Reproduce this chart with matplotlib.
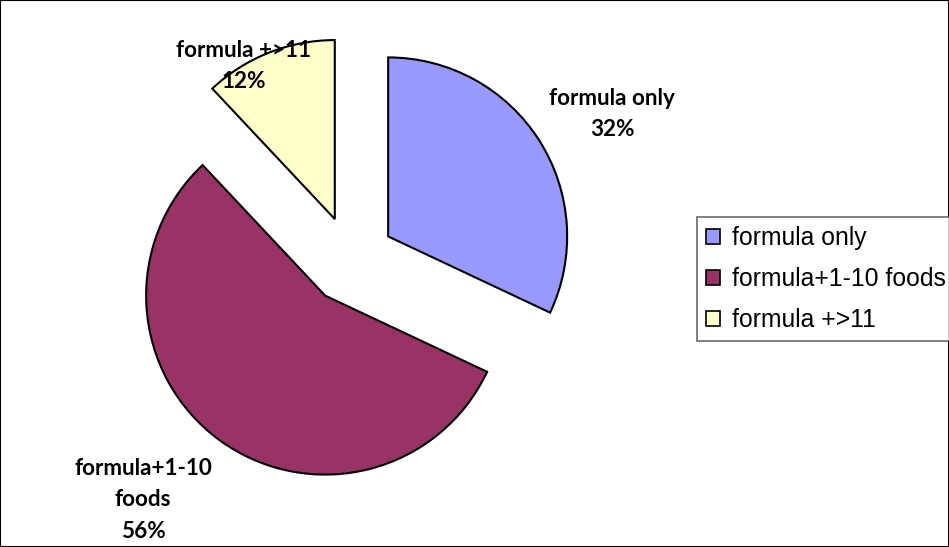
import matplotlib.pyplot as plt
from matplotlib.patches import Patch, Rectangle

labels = ['formula only', 'formula+1-10 foods', 'formula +>11']
values = [32, 56, 12]
colors = ['#9999FF', '#993366', '#FFFFCC']
pie_labels = ['formula only\n32%', 'formula+1-10\nfoods\n56%', 'formula +>11\n12%']
label_pos = [(612, 433), (143, 47), (244, 481)]

fig = plt.figure(figsize=(9.49, 5.47), dpi=100)
ax = fig.add_axes([0, 0, 1, 1])

ax.pie(values, colors=colors, startangle=90, counterclock=False,
       center=(351, 287), radius=179, explode=[44, 44, 44],
       wedgeprops=dict(edgecolor='black', linewidth=1.5), frame=True)
ax.set_xlim(0, 949)
ax.set_ylim(0, 547)
ax.axis('off')

for txt, (x, y) in zip(pie_labels, label_pos):
    ax.text(x, y, txt, ha='center', va='center', fontsize=16.2, fontweight='bold',
            family='Lato', linespacing=1.6)

handles = [Patch(facecolor=c, edgecolor='black', linewidth=1.2) for c in colors]
leg = fig.legend(handles, labels, loc='upper left', bbox_to_anchor=(697 / 949, 1 - 217 / 547),
                 prop={'family': 'Liberation Sans', 'size': 17.8}, frameon=True, fancybox=False,
                 handlelength=0.55, handleheight=0.55, handletextpad=0.5,
                 labelspacing=0.68, borderpad=0.38, borderaxespad=0)
leg.get_frame().set_edgecolor('#444444')
leg.get_frame().set_linewidth(1.2)

fig.patches.append(Rectangle((0, 0), 1, 1, transform=fig.transFigure, fill=False,
                             edgecolor='black', linewidth=1.5))

fig.savefig('out.png', dpi=100)
